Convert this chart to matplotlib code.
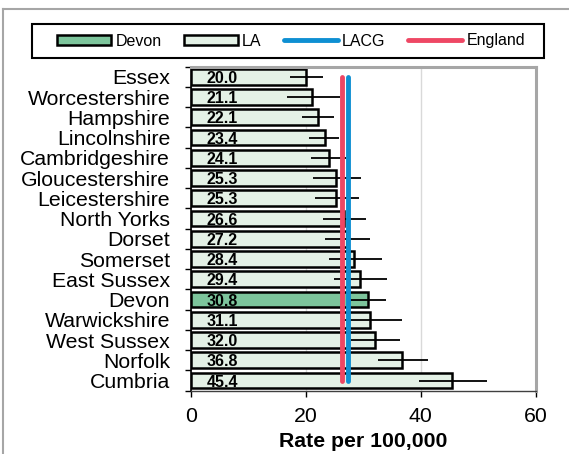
import matplotlib.pyplot as plt
from matplotlib.patches import Patch, Rectangle
from matplotlib.lines import Line2D

plt.rcParams['font.family'] = ['Liberation Sans', 'DejaVu Sans']

areas = ["Essex", "Worcestershire", "Hampshire", "Lincolnshire", "Cambridgeshire",
         "Gloucestershire", "Leicestershire", "North Yorks", "Dorset", "Somerset",
         "East Sussex", "Devon", "Warwickshire", "West Sussex", "Norfolk", "Cumbria"]
rates = [20.0, 21.1, 22.1, 23.4, 24.1, 25.3, 25.3, 26.6, 27.2, 28.4,
         29.4, 30.8, 31.1, 32.0, 36.8, 45.4]
ci_low = [17.2, 16.7, 19.4, 20.5, 20.9, 21.3, 21.6, 22.9, 23.4, 24.0,
          24.9, 27.6, 26.7, 27.8, 32.6, 39.7]
ci_high = [22.9, 25.9, 24.9, 25.8, 26.9, 29.6, 29.2, 30.4, 31.1, 33.2,
           34.2, 34.0, 36.7, 36.4, 41.2, 51.6]
lacg_rate = 27.4
england_rate = 26.2

devon_green = "#7dc59c"
la_green = "#e4f1e6"
lacg_blue = "#0e8fd2"
england_red = "#ee4764"

fig = plt.figure(figsize=(5.69, 4.54), dpi=100)
ax = fig.add_axes([191 / 569, 1 - 390.7 / 454, 344.7 / 569, 324 / 454])

pos = list(range(len(areas)))
colors = [devon_green if a == "Devon" else la_green for a in areas]
ax.barh(pos, rates, height=0.78, color=colors, edgecolor="black", linewidth=1.8, zorder=2)

err = [[r - lo for r, lo in zip(rates, ci_low)], [hi - r for r, hi in zip(rates, ci_high)]]
ax.errorbar(rates, pos, xerr=err, fmt="none", ecolor="black", elinewidth=1.3, capsize=0, zorder=3)

for p, r in zip(pos, rates):
    ax.text(2.7, p + 0.08, f"{r:.1f}", ha="left", va="center", fontsize=11.5,
            fontweight="bold", zorder=4)

ax.plot([lacg_rate, lacg_rate], [pos[0], pos[-1]], color=lacg_blue, lw=3.5,
        solid_capstyle="round", zorder=5)
ax.plot([england_rate, england_rate], [pos[0], pos[-1]], color=england_red, lw=3.5,
        solid_capstyle="round", zorder=5)

ax.set_xlim(0, 60)
ax.set_ylim(15.5, -0.5)
ax.set_xticks([0, 20, 40, 60])
ax.set_yticks([p + 0.5 for p in [-1] + pos])
ax.set_yticklabels([])
ax.set_yticks(pos, minor=True)
ax.set_yticklabels(areas, minor=True)
ax.tick_params(axis="y", which="minor", length=0, pad=15, labelsize=15.3)
ax.tick_params(axis="y", which="major", length=4, width=1, direction="out")
ax.tick_params(axis="x", length=4, width=1, direction="out", pad=8, labelsize=15.3)
ax.grid(axis="x", color="#d9d9d9", lw=1, zorder=0)
ax.set_axisbelow(True)

for side in ["top", "right"]:
    ax.spines[side].set_color("#a6a6a6")
    ax.spines[side].set_linewidth(2.2)
ax.spines["left"].set_linewidth(1.2)
ax.spines["bottom"].set_linewidth(1)
ax.spines["bottom"].set_color("#404040")

ax.set_xlabel("Rate per 100,000", fontsize=15.3, fontweight="bold", labelpad=4)

# outer panel edges
fig.add_artist(Line2D([3 / 569, 1], [1 - 9 / 454, 1 - 9 / 454], color="#a6a6a6", lw=1.5))
fig.add_artist(Line2D([3 / 569, 3 / 569], [0, 1 - 9 / 454], color="#a6a6a6", lw=1.5))

# legend box
fig.add_artist(Rectangle((32 / 569, 1 - 58 / 454), 512 / 569, 34 / 454, fill=False,
                         edgecolor="black", lw=1.5, transform=fig.transFigure))
handles = [
    Patch(facecolor=devon_green, edgecolor="black", lw=1.8),
    Patch(facecolor=la_green, edgecolor="black", lw=1.8),
    Line2D([], [], color=lacg_blue, lw=3.5, solid_capstyle="round"),
    Line2D([], [], color=england_red, lw=3.5, solid_capstyle="round"),
]
fig.legend(handles, ["Devon", "LA", "LACG", "England"], loc="center",
           bbox_to_anchor=(291 / 569, 1 - 41 / 454), ncol=4, frameon=False,
           fontsize=11.5, handlelength=3.4, handleheight=0.55, handletextpad=0.25,
           columnspacing=1.4)

fig.savefig("out.png", dpi=100)
